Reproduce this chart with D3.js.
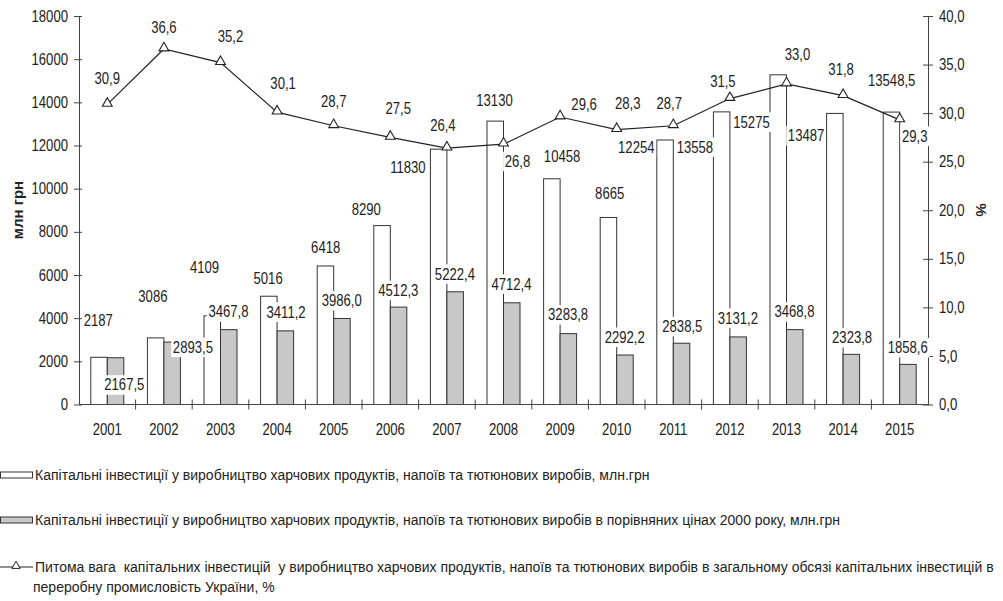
<!DOCTYPE html>
<html>
<head>
<meta charset="utf-8">
<script src="https://cdn.jsdelivr.net/npm/d3@7"></script>
<style>
  body { margin: 0; background: #fff; }
  svg text { font-family: "Liberation Sans", Arial, sans-serif; fill: #222; }
</style>
</head>
<body>
<svg width="1003" height="601"></svg>
<script>
'use strict';

// data
var years = ['2001', '2002', '2003', '2004', '2005', '2006', '2007', '2008', '2009', '2010', '2011', '2012', '2013', '2014', '2015'];
var nominal = [2187, 3086, 4109, 5016, 6418, 8290, 11830, 13130, 10458, 8665, 12254, 13558, 15275, 13487, 13548.5];
var realPrices = [2167.5, 2893.5, 3467.8, 3411.2, 3986.0, 4512.3, 5222.4, 4712.4, 3283.8, 2292.2, 2838.5, 3131.2, 3468.8, 2323.8, 1858.6];
var share = [30.9, 36.6, 35.2, 30.1, 28.7, 27.5, 26.4, 26.8, 29.6, 28.3, 28.7, 31.5, 33.0, 31.8, 29.3];
var leftTicks = [0, 2000, 4000, 6000, 8000, 10000, 12000, 14000, 16000, 18000];
var rightTicks = [0, 5, 10, 15, 20, 25, 30, 35, 40];

var legendLabels = [
    'Капітальні інвестиції у виробництво харчових продуктів, напоїв та тютюнових виробів, млн.грн',
    'Капітальні інвестиції у виробництво харчових продуктів, напоїв та тютюнових виробів в порівняних цінах 2000 року, млн.грн',
    ['Питома вага  капітальних інвестицій  у виробництво харчових продуктів, напоїв та тютюнових виробів в загальному обсязі капітальних інвестицій в',
     'переробну промисловість України, %']
];

// label nudges (px) as placed in the original picture
var nomNudge = [[-9, -37], [-11, -42], [-16, -49], [-9, -18], [-8, -19], [-24, -16], [-39, 18], [-9, -21], [2, -23], [-7, -24], [-37, 7], [-35, 35], [-35, 47], [-37, 22], [-8, -32]];
var realNudge = [[17, 27], [29, 5], [8, -18], [9, -19], [8, -18], [8, -17], [8, -18], [8, -19], [8, -19], [8, -18], [9, -17], [8, -19], [8, -18], [9, -17], [8, -17]];
var shareNudge = [[0, -26], [0, -22], [10, -26], [6, -29], [0, -25], [8, -29], [-4, -23], [14, 17], [24, -13], [11, -26], [-4, -23], [-7, -17], [11, -30], [-2, -26], [15, 16]];

(function () {
    var svg = d3.select('svg'),
        padL = 79, padR = 928, padT = 16, baseY = 404.5,
        narrow = 0.82,
        ink = '#333', grey = '#c8c8c8';

    var x = d3.scaleBand().domain(years).range([padL, padR]).padding(0),
        sub = d3.scaleBand().domain(['nom', 'real']).range([0, x.bandwidth()]).paddingInner(0).paddingOuter(0.715),
        y = d3.scaleLinear().domain([0, 18000]).range([baseY, padT]),
        yR = d3.scaleLinear().domain([0, 40]).range([baseY, padT]);

    var fmt1 = function (v) { return d3.format('.1f')(v).replace('.', ','); },
        fmtNom = function (v) { return Number.isInteger(v) ? String(v) : fmt1(v); };

    var barLayer = svg.append('g'),
        axisLayer = svg.append('g'),
        lineLayer = svg.append('g'),
        labelLayer = svg.append('g'),
        legendLayer = svg.append('g');

    // bars
    barLayer.selectAll('rect.nom').data(nominal).enter().append('rect')
        .attr('x', function (d, i) { return x(years[i]) + sub('nom'); })
        .attr('y', function (d) { return y(d); })
        .attr('width', sub.bandwidth())
        .attr('height', function (d) { return y(0) - y(d); })
        .attr('fill', '#fff').attr('stroke', ink).attr('stroke-width', 1);

    barLayer.selectAll('rect.real').data(realPrices).enter().append('rect')
        .attr('x', function (d, i) { return x(years[i]) + sub('real'); })
        .attr('y', function (d) { return y(d); })
        .attr('width', sub.bandwidth())
        .attr('height', function (d) { return y(0) - y(d); })
        .attr('fill', grey).attr('stroke', ink).attr('stroke-width', 1);

    // axes; tick text squeezed to look like the narrow face of the original
    function styleAxis(g) {
        g.selectAll('path, line').attr('stroke', '#444').attr('stroke-width', 1);
        g.selectAll('.tick text').each(function () {
            var t = d3.select(this), tx = +t.attr('x') || 0;
            t.attr('font-size', 16).attr('fill', '#222')
                .attr('x', tx / narrow)
                .attr('transform', 'scale(' + narrow + ',1)');
        });
    }

    var gL = axisLayer.append('g').attr('transform', 'translate(' + padL + ',0)')
        .call(d3.axisLeft(y).tickValues(leftTicks).tickSize(5).tickSizeOuter(0).tickPadding(6).tickFormat(d3.format('d')));
    gL.selectAll('.tick line').attr('x2', 3).attr('x1', -5);
    styleAxis(gL);

    var gR = axisLayer.append('g').attr('transform', 'translate(' + padR + ',0)')
        .call(d3.axisRight(yR).tickValues(rightTicks).tickSize(5).tickSizeOuter(0).tickPadding(6).tickFormat(fmt1));
    gR.selectAll('.tick line').attr('x1', -5).attr('x2', 5);
    styleAxis(gR);

    var gX = axisLayer.append('g').attr('transform', 'translate(0,' + baseY + ')')
        .call(d3.axisBottom(x).tickSize(0).tickPadding(19));
    gX.select('.domain').remove();
    gX.append('line').attr('x1', padL).attr('x2', padR).attr('stroke', '#444');
    gX.selectAll('.boundary').data(years.slice(1)).enter().append('line')
        .attr('x1', function (d) { return x(d); }).attr('x2', function (d) { return x(d); })
        .attr('y1', -5).attr('y2', 5).attr('stroke', '#444');
    styleAxis(gX);

    // axis titles
    axisLayer.append('text')
        .attr('transform', 'translate(23,210) rotate(-90)')
        .attr('text-anchor', 'middle').attr('font-size', 15).attr('font-weight', 'bold')
        .text('млн грн');
    axisLayer.append('text')
        .attr('transform', 'translate(976,210) rotate(90)')
        .attr('text-anchor', 'middle').attr('font-size', 15).attr('font-weight', 'bold')
        .text('%');

    // line
    var cx = function (i) { return x(years[i]) + x.bandwidth() / 2; };
    var tri = d3.symbol().type(d3.symbolTriangle).size(42);

    lineLayer.append('path')
        .datum(share)
        .attr('d', d3.line().x(function (d, i) { return cx(i); }).y(function (d) { return yR(d); }))
        .attr('fill', 'none').attr('stroke', '#222').attr('stroke-width', 1.2);
    lineLayer.selectAll('path.mark').data(share).enter().append('path')
        .attr('class', 'mark')
        .attr('transform', function (d, i) { return 'translate(' + cx(i) + ',' + (yR(d) - 1) + ')'; })
        .attr('d', tri)
        .attr('fill', '#fff').attr('stroke', '#222').attr('stroke-width', 1.1);

    // labels with white boxes
    function addLabels(values, scale, nudge, format) {
        values.forEach(function (v, i) {
            var g = labelLayer.append('g')
                .attr('transform', 'translate(' + (cx(i) + nudge[i][0]) + ',' + (scale(v) + nudge[i][1]) + ') scale(' + narrow + ',1)');
            var t = g.append('text')
                .attr('text-anchor', 'middle').attr('dy', '0.36em')
                .attr('font-size', 16)
                .text(format(v));
            var b = t.node().getBBox();
            g.insert('rect', 'text')
                .attr('x', b.x - 2).attr('y', b.y - 1)
                .attr('width', b.width + 4).attr('height', b.height + 2)
                .attr('fill', '#fff');
        });
    }
    addLabels(nominal, y, nomNudge, fmtNom);
    addLabels(realPrices, y, realNudge, fmt1);
    addLabels(share, yR, shareNudge, fmt1);

    // legend
    var legY = [475, 520, 567];
    legendLayer.append('rect').attr('x', 0.5).attr('y', legY[0] - 3).attr('width', 32).attr('height', 6)
        .attr('fill', '#fff').attr('stroke', ink);
    legendLayer.append('rect').attr('x', 0.5).attr('y', legY[1] - 3).attr('width', 32).attr('height', 6)
        .attr('fill', grey).attr('stroke', ink);
    legendLayer.append('line').attr('x1', 0).attr('x2', 33).attr('y1', legY[2]).attr('y2', legY[2])
        .attr('stroke', '#222');
    legendLayer.append('path').attr('transform', 'translate(16,' + (legY[2] - 1) + ')')
        .attr('d', d3.symbol().type(d3.symbolTriangle).size(30))
        .attr('fill', '#fff').attr('stroke', '#222');

    var legTexts = [
        [35, legY[0], legendLabels[0]],
        [35, legY[1], legendLabels[1]],
        [35, legY[2], legendLabels[2][0]],
        [33, legY[2] + 20, legendLabels[2][1]]
    ];
    legendLayer.selectAll('text').data(legTexts).enter().append('text')
        .attr('x', function (d) { return d[0]; })
        .attr('y', function (d) { return d[1]; })
        .attr('dy', '0.36em')
        .attr('font-size', 14)
        .style('white-space', 'pre')
        .text(function (d) { return d[2]; });
})();
</script>
</body>
</html>
